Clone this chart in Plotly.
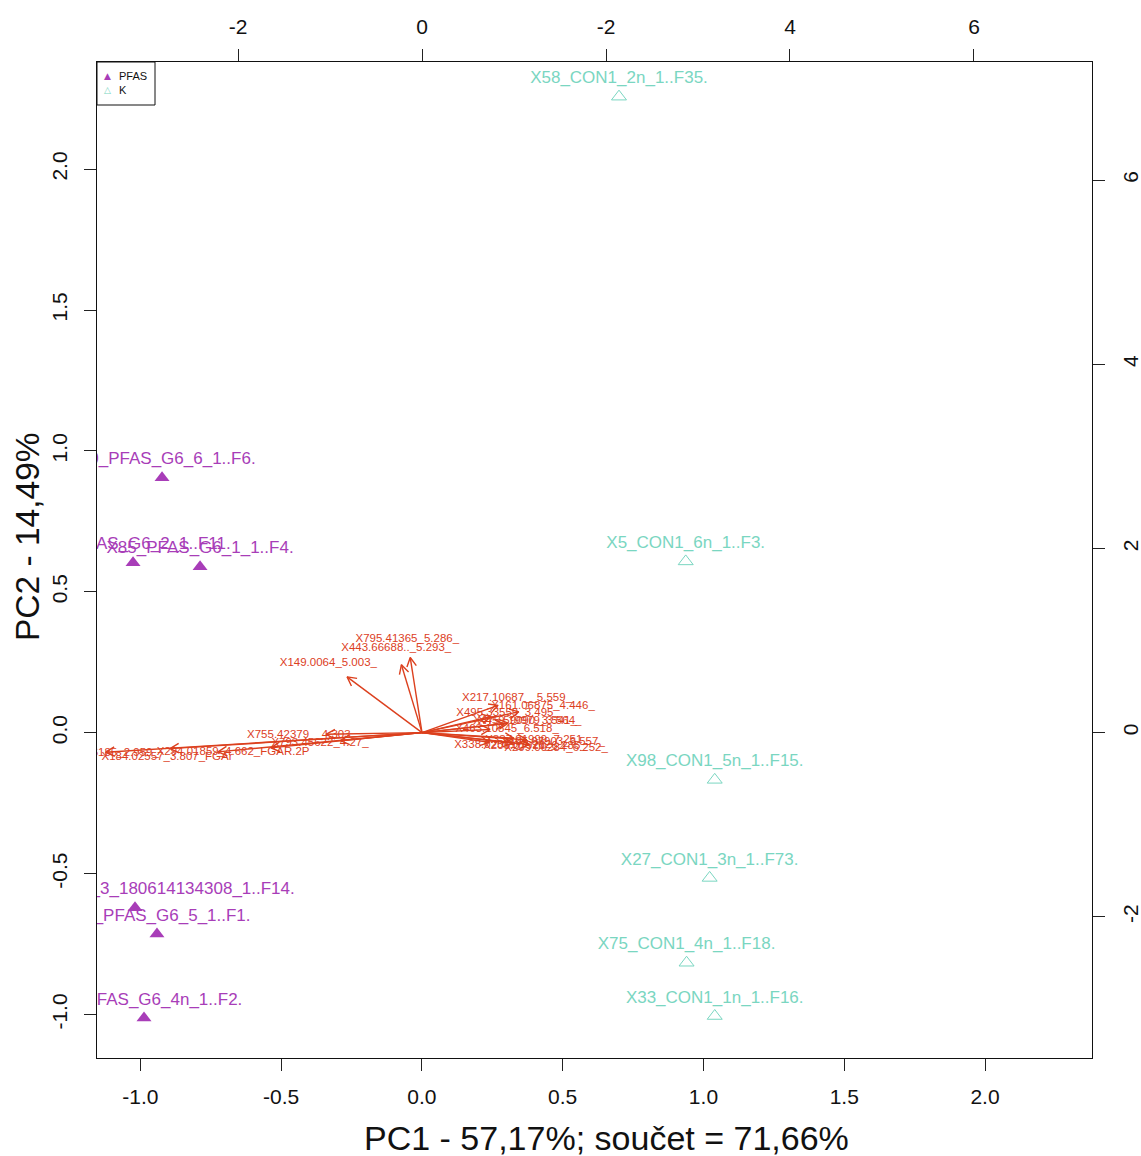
import math
import plotly.graph_objects as go

# ---------------- data ----------------
pfas_labels = ["X10_PFAS_G6_6_1..F6.", "X41_PFAS_G6_2_1..F11.", "X85_PFAS_G6_1_1..F4.",
               "X12_PFAS_G6_3_180614134308_1..F14.", "X32_PFAS_G6_5_1..F1.", "X64_PFAS_G6_4n_1..F2."]
pfas_pc1 = [-0.923, -1.026, -0.788, -1.019, -0.941, -0.987]
pfas_pc2 = [0.905, 0.603, 0.589, -0.621, -0.714, -1.012]

k_labels = ["X58_CON1_2n_1..F35.", "X5_CON1_6n_1..F3.", "X98_CON1_5n_1..F15.",
            "X27_CON1_3n_1..F73.", "X75_CON1_4n_1..F18.", "X33_CON1_1n_1..F16."]
k_pc1 = [0.700, 0.937, 1.040, 1.022, 0.940, 1.040]
k_pc2 = [2.257, 0.608, -0.167, -0.515, -0.816, -1.005]

var_labels = ["X149.0064_5.003_", "X795.41365_5.286_", "X443.66688.._5.293_",
              "X217.10687__5.559_", "X161.06875_4.446_", "X495.33559_3.495_",
              "X475.59090_3.541_", "X459.19979_3.564_", "X463.10845_6.518_",
              "X337.01999_7.251_", "X338.02571_7.262_", "X165.07903_6.557_",
              "X209.09284_6.252_", "X205.07921_6.285_",
              "X755.42379__4.303_", "X793.45622_4.27_", "X294.01859_4.662_FGAR.2P",
              "X184.02557_3.807_FGAr", "X413.26185_2.959_", "X481.21185_2.055_"]
var_pc1 = [-1.018, -0.160, -0.280,
           1.033, 1.315, 0.935,
           1.120, 1.170, 0.924,
           1.250, 0.913, 1.424,
           1.457, 1.228,
           -1.304, -1.109, -2.054,
           -2.772, -3.424, -4.300]
var_pc2 = [0.757, 1.020, 0.922,
           0.370, 0.283, 0.217,
           0.120, 0.130, 0.043,
           -0.076, -0.130, -0.098,
           -0.163, -0.141,
           -0.022, -0.109, -0.207,
           -0.261, -0.217, -0.265]

x_tickvals = [-1.0, -0.5, 0.0, 0.5, 1.0, 1.5, 2.0]
x_ticktext = ["-1.0", "-0.5", "0.0", "0.5", "1.0", "1.5", "2.0"]
y_tickvals = [-1.0, -0.5, 0.0, 0.5, 1.0, 1.5, 2.0]
y_ticktext = ["-1.0", "-0.5", "0.0", "0.5", "1.0", "1.5", "2.0"]
top_tickvals = [-2, 0, 2, 4, 6]
top_ticktext = ["-2", "0", "-2", "4", "6"]
right_tickvals = [-2, 0, 2, 4, 6]
right_ticktext = ["-2", "0", "2", "4", "6"]

legend_names = ["PFAS", "K"]
x_title = "PC1 - 57,17%; součet = 71,66%"
y_title = "PC2 - 14,49%"

# ---------------- styling ----------------
PFAS_COL = "#A83DB8"
K_COL = "#7AD6C1"
ARROW_COL = "#DC401E"
SANS = "Liberation Sans, Arial, sans-serif"

prim_range = [-1.154, 2.380]
sec_range = [-3.533, 7.283]

ARROW_FRAC = 0.8
HEAD_LEN = 0.11
HEAD_ANG = math.radians(28)

# arrows (shaft + open head) built from loadings
ax_, ay_ = [], []
for x, y in zip(var_pc1, var_pc2):
    tx, ty = x * ARROW_FRAC, y * ARROW_FRAC
    th = math.atan2(ty, tx)
    ax_ += [0, tx, None]
    ay_ += [0, ty, None]
    ax_ += [tx - HEAD_LEN * math.cos(th + HEAD_ANG), tx, tx - HEAD_LEN * math.cos(th - HEAD_ANG), None]
    ay_ += [ty - HEAD_LEN * math.sin(th + HEAD_ANG), ty, ty - HEAD_LEN * math.sin(th - HEAD_ANG), None]

fig = go.Figure()

fig.add_trace(go.Scatter(
    x=ax_, y=ay_, mode="lines", xaxis="x2", yaxis="y2",
    line=dict(color=ARROW_COL, width=1.4), showlegend=False, hoverinfo="skip",
    cliponaxis=True))
fig.add_trace(go.Scatter(
    x=var_pc1, y=var_pc2, mode="text", text=var_labels, xaxis="x2", yaxis="y2",
    textposition="middle center", textfont=dict(family=SANS, size=11.5, color=ARROW_COL),
    showlegend=False, cliponaxis=True))

fig.add_trace(go.Scatter(
    x=pfas_pc1, y=pfas_pc2, mode="markers+text", text=pfas_labels, name=legend_names[0],
    textposition="top center", textfont=dict(family=SANS, size=17, color=PFAS_COL),
    marker=dict(symbol="triangle-up", size=13, color=PFAS_COL),
    cliponaxis=True, showlegend=False))
fig.add_trace(go.Scatter(
    x=k_pc1, y=k_pc2, mode="markers+text", text=k_labels, name=legend_names[1],
    textposition="top center", textfont=dict(family=SANS, size=17, color=K_COL),
    marker=dict(symbol="triangle-up-open", size=13, color=K_COL, line=dict(width=1, color=K_COL)),
    cliponaxis=True, showlegend=False))

axis_common = dict(showgrid=False, zeroline=False, showline=True, linecolor="#111",
                   linewidth=1.3, ticks="outside", ticklen=12, tickwidth=1.2,
                   tickcolor="#222", automargin=False,
                   tickfont=dict(family=SANS, size=21, color="#111"))

# plot area size in px (for legend / title placement in paper units)
PW, PH = 995.0, 996.0

# manual legend box (top-left corner of plot, like R's legend())
shapes = [dict(type="rect", xref="paper", yref="paper",
               x0=0, x1=58 / PW, y0=1 - 43 / PH, y1=1,
               line=dict(color="#111", width=1), fillcolor="white", layer="above")]
anns = []
for i, (nm, sym, col) in enumerate(zip(legend_names, ["▲", "△"], [PFAS_COL, K_COL])):
    yy = 1 - (14 + 14 * i) / PH
    anns.append(dict(xref="paper", yref="paper", x=10 / PW, y=yy, text=sym,
                     showarrow=False, xanchor="center", yanchor="middle",
                     font=dict(family="DejaVu Sans", size=9, color=col)))
    anns.append(dict(xref="paper", yref="paper", x=20 / PW, y=yy, text=nm,
                     showarrow=False, xanchor="left", yanchor="middle",
                     font=dict(family=SANS, size=11, color="#111")))

# axis titles
anns.append(dict(xref="paper", yref="paper", x=509 / PW, y=-80 / PH, text=x_title,
                 showarrow=False, xanchor="center", yanchor="middle",
                 font=dict(family=SANS, size=34, color="#111")))
anns.append(dict(xref="paper", yref="paper", x=-70 / PW, y=521 / PH, text=y_title,
                 showarrow=False, xanchor="center", yanchor="middle", textangle=-90,
                 font=dict(family=SANS, size=33.5, color="#111")))

fig.update_layout(
    width=1141, height=1156,
    margin=dict(l=97, r=49, t=62, b=98),
    paper_bgcolor="white", plot_bgcolor="white",
    xaxis=dict(range=prim_range, tickmode="array", tickvals=x_tickvals, ticktext=x_ticktext,
               mirror=True, ticklabelstandoff=8, **axis_common),
    yaxis=dict(range=prim_range, tickmode="array", tickvals=y_tickvals, ticktext=y_ticktext,
               mirror=True, tickangle=-90, ticklabelstandoff=8, **axis_common),
    xaxis2=dict(range=sec_range, overlaying="x", side="top", anchor="y",
                tickmode="array", tickvals=top_tickvals, ticktext=top_ticktext,
                ticklabelstandoff=6, **axis_common),
    yaxis2=dict(range=sec_range, overlaying="y", side="right", anchor="x",
                tickmode="array", tickvals=right_tickvals, ticktext=right_ticktext,
                tickangle=-90, ticklabelstandoff=8, **axis_common),
    shapes=shapes,
    annotations=anns,
    showlegend=False,
)

# page without the default 8px body margin so the figure fills the window exactly
fig.write_html("out.html",
               config={"displayModeBar": False},
               post_script="document.body.style.margin='0px';document.body.style.overflow='hidden';")
